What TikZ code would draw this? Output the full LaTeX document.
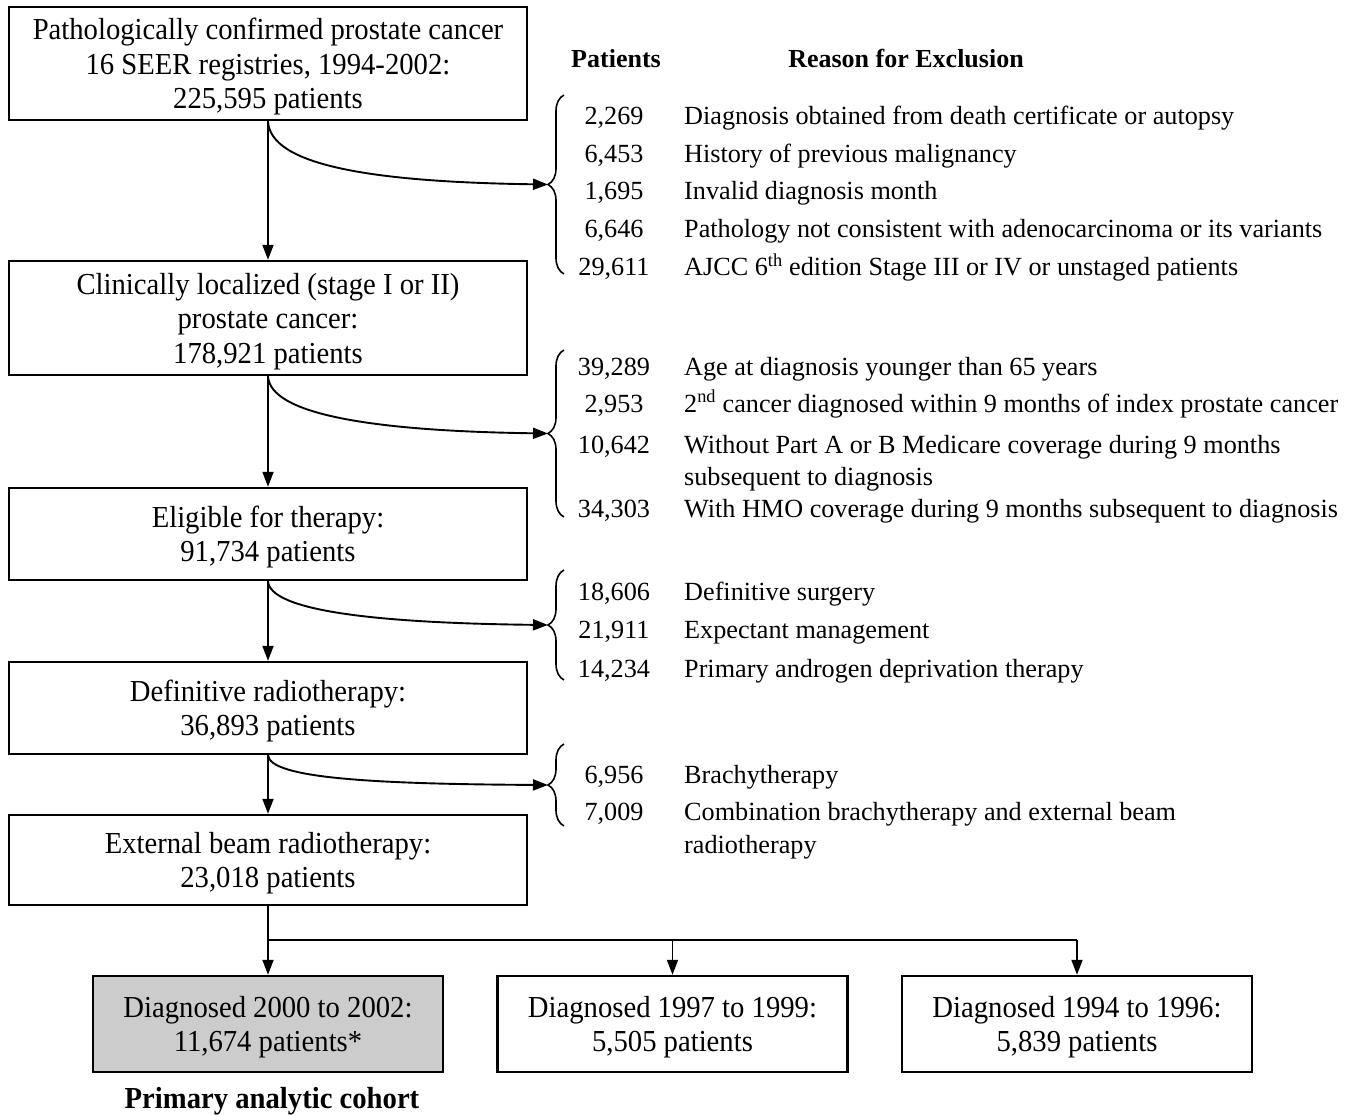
\documentclass[tikz,border=0pt]{standalone}
\usepackage{fontspec}
\setmainfont{Liberation Serif}
\newfontfamily\boxfont[FakeStretch=0.94]{Liberation Serif}
\usetikzlibrary{arrows.meta,decorations.pathreplacing}
\begin{document}
\begin{tikzpicture}[x=1pt,y=-1pt,
  box/.style={draw,line width=2.4pt,inner sep=0pt,align=center,minimum width=518pt,text depth=-1.5pt,
    font={\boxfont\fontsize{30.5}{34.5}\selectfont}},
  sbox/.style={box,minimum width=350pt,minimum height=96pt},
  arr/.style={line width=1.9pt,-{Triangle[length=15pt,width=11pt]}},
  conn/.style={line width=1.9pt},
  brc/.style={decorate,decoration={brace,amplitude=16pt},line width=1.6pt},
  num/.style={anchor=base,inner sep=0pt,font={\fontsize{26.2}{31}\selectfont}},
  rsn/.style={anchor=base west,inner sep=0pt,font={\fontsize{26.2}{31}\selectfont}},
  hdr/.style={anchor=base,inner sep=0pt,font={\bfseries\fontsize{26}{31}\selectfont}}
]
\useasboundingbox (0,0) rectangle (1358,1115);
\fill[white] (0,0) rectangle (1358,1115);

% main boxes
\node[box,minimum height=113pt] (b1) at (268,63.5) {Pathologically confirmed prostate cancer\\16 SEER registries, 1994-2002:\\225,595 patients};
\node[box,minimum height=114pt] (b2) at (268,318) {Clinically localized (stage I or II)\\prostate cancer:\\178,921 patients};
\node[box,minimum height=92pt] (b3) at (268,534) {Eligible for therapy:\\91,734 patients};
\node[box,minimum height=92pt] (b4) at (268,708) {Definitive radiotherapy:\\36,893 patients};
\node[box,minimum height=90pt] (b5) at (268,860) {External beam radiotherapy:\\23,018 patients};
\node[sbox,fill=black!20] (b6) at (268,1024) {Diagnosed 2000 to 2002:\\11,674 patients*};
\node[sbox] (b7) at (672.5,1024) {Diagnosed 1997 to 1999:\\5,505 patients};
\node[sbox] (b8) at (1077,1024) {Diagnosed 1994 to 1996:\\5,839 patients};
\node[anchor=base,inner sep=0pt,font={\boxfont\bfseries\fontsize{30.5}{34}\selectfont}] (pac) at (272,1108) {Primary analytic cohort};

% headers
\node[hdr] (hp) at (616,68) {Patients};
\node[hdr] (hr) at (906,68) {Reason for Exclusion};

% braces
\draw[brc] (564,274) -- (564,95);
\draw[brc] (564,517) -- (564,350);
\draw[brc] (564,680) -- (564,570);
\draw[brc] (564,826) -- (564,744);
\coordinate (tip1) at (548,184.5);
\coordinate (tip2) at (548,433.5);
\coordinate (tip3) at (548,625);
\coordinate (tip4) at (548,785);

% vertical arrows
\draw[arr] (b1.south) -- (b2.north);
\draw[arr] (b2.south) -- (b3.north);
\draw[arr] (b3.south) -- (b4.north);
\draw[arr] (b4.south) -- (b5.north);
\draw[arr] (b5.south) -- (b6.north);
\coordinate (j0) at (268,940);
\coordinate (j1) at (672.5,940);
\coordinate (j2) at (1077,940);
\draw[conn] (j0) -- (j2);
\draw[arr] (j1) -- (b7.north);
\draw[arr] (j2) -- (b8.north);

% curved arrows
\draw[arr] (b1.south) .. controls (270,165) and (370,182) .. (tip1);
\draw[arr] (b2.south) .. controls (270,414) and (370,431) .. (tip2);
\draw[arr] (b3.south) .. controls (270,610) and (370,623) .. (tip3);
\draw[arr] (b4.south) .. controls (270,778) and (370,784) .. (tip4);

% group 1
\node[num] (n11) at (614,125) {2,269};
\node[rsn] (t11) at (684,125) {Diagnosis obtained from death certificate or autopsy};
\node[num] (n12) at (614,163) {6,453};
\node[rsn] (t12) at (684,163) {History of previous malignancy};
\node[num] (n13) at (614,200) {1,695};
\node[rsn] (t13) at (684,200) {Invalid diagnosis month};
\node[num] (n14) at (614,238) {6,646};
\node[rsn] (t14) at (684,238) {Pathology not consistent with adenocarcinoma or its variants};
\node[num] (n15) at (614,276) {29,611};
\node[rsn] (t15) at (684,276) {AJCC 6\textsuperscript{th} edition Stage III or IV or unstaged patients};

% group 2
\node[num] (n21) at (614,375) {39,289};
\node[rsn] (t21) at (684,375) {Age at diagnosis younger than 65 years};
\node[num] (n22) at (614,412) {2,953};
\node[rsn] (t22) at (684,412) {2\textsuperscript{nd} cancer diagnosed within 9 months of index prostate cancer};
\node[num] (n23) at (614,453) {10,642};
\node[rsn] (t23) at (684,453) {Without Part A or B Medicare coverage during 9 months};
\node[rsn] (t23b) at (684,485) {subsequent to diagnosis};
\node[num] (n24) at (614,517) {34,303};
\node[rsn] (t24) at (684,517) {With HMO coverage during 9 months subsequent to diagnosis};

% group 3
\node[num] (n31) at (614,600) {18,606};
\node[rsn] (t31) at (684,600) {Definitive surgery};
\node[num] (n32) at (614,638) {21,911};
\node[rsn] (t32) at (684,638) {Expectant management};
\node[num] (n33) at (614,677) {14,234};
\node[rsn] (t33) at (684,677) {Primary androgen deprivation therapy};

% group 4
\node[num] (n41) at (614,783) {6,956};
\node[rsn] (t41) at (684,783) {Brachytherapy};
\node[num] (n42) at (614,820) {7,009};
\node[rsn] (t42) at (684,820) {Combination brachytherapy and external beam};
\node[rsn] (t42b) at (684,853) {radiotherapy};
\end{tikzpicture}
\end{document}
